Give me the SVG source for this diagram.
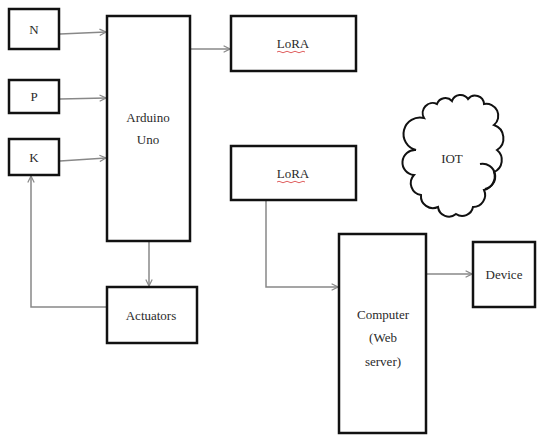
<svg xmlns="http://www.w3.org/2000/svg" width="537" height="436" viewBox="0 0 537 436">
<defs>
<style>
.box{fill:#fff;stroke:#111;stroke-width:2.5}
.lbl{font-family:'Liberation Serif','Times New Roman','DejaVu Serif',serif;font-size:13px;fill:#2a2a2a;text-anchor:middle}
.conn{fill:none;stroke:#888;stroke-width:1.5}
.sq{fill:none;stroke:#e06060;stroke-width:1}
</style>
<marker id="arr" viewBox="0 0 10 10" refX="9" refY="5" markerWidth="8" markerHeight="8" markerUnits="userSpaceOnUse" orient="auto">
<path d="M1 1 L9 5 L1 9" fill="none" stroke="#888" stroke-width="1.5"/>
</marker>
</defs>
<rect width="537" height="436" fill="#fff"/>
<g id="connectors">
<path class="conn" d="M60 34 L106 32" marker-end="url(#arr)"/>
<path class="conn" d="M60 99 L106 98" marker-end="url(#arr)"/>
<path class="conn" d="M60 161 L106 158" marker-end="url(#arr)"/>
<path class="conn" d="M191 49 L230 49" marker-end="url(#arr)"/>
<path class="conn" d="M149 242 L149 286" marker-end="url(#arr)"/>
<path class="conn" d="M107 307 L31 307 L31 176" marker-end="url(#arr)"/>
<path class="conn" d="M266 200 L266 287 L338 287" marker-end="url(#arr)"/>
<path class="conn" d="M426 274 L472 274" marker-end="url(#arr)"/>
</g>
<g id="N"><rect class="box" x="9" y="9" width="50" height="40"/><text class="lbl" font-family="Liberation Serif, serif" x="34" y="34">N</text></g>
<g id="P"><rect class="box" x="9" y="80" width="50" height="33"/><text class="lbl" font-family="Liberation Serif, serif" x="34" y="101">P</text></g>
<g id="K"><rect class="box" x="9" y="139" width="50" height="36"/><text class="lbl" font-family="Liberation Serif, serif" x="34" y="162">K</text></g>
<g id="arduino"><rect class="box" x="107" y="16" width="83" height="225"/><text class="lbl" x="148" y="122">Arduino</text><text class="lbl" x="148" y="144">Uno</text></g>
<g id="lora1"><rect class="box" x="231" y="16" width="125" height="55"/><text class="lbl" x="293" y="48">LoRA</text><path class="sq" d="M277 52 q2 -1.5 4 0 t4 0 t4 0 t4 0 t4 0 t4 0 t4 0"/></g>
<g id="lora2"><rect class="box" x="231" y="146" width="125" height="54"/><text class="lbl" x="293" y="178">LoRA</text><path class="sq" d="M277 182 q2 -1.5 4 0 t4 0 t4 0 t4 0 t4 0 t4 0 t4 0"/></g>
<g id="actuators"><rect class="box" x="107" y="287" width="90" height="56"/><text class="lbl" x="151" y="320">Actuators</text></g>
<g id="iot"><path fill="#fff" stroke="#111" stroke-width="2" d="M424 118 A10 10 0 0 1 437 104 A9 9 0 0 1 452 101 A9 9 0 0 1 468 99 A9 9 0 0 1 484 104 A12 12 0 0 1 494 125 A14 14 0 0 1 497 150 A13 13 0 0 1 494 172 A14 14 0 0 1 484 190 A12 12 0 0 1 473 207 A11 11 0 0 1 456 214 A11 11 0 0 1 438 207 A12 12 0 0 1 421 195 A12 12 0 0 1 414 175 A12 12 0 0 1 416 150 A14 14 0 0 1 424 118 Z"/><path fill="none" stroke="#111" stroke-width="2" d="M480 164 A11 11 0 0 1 485 189"/><text class="lbl" x="452" y="163" font-size="14">IOT</text></g>
<g id="computer"><rect class="box" x="339" y="234" width="87" height="199"/><text class="lbl" x="383" y="319">Computer</text><text class="lbl" x="383" y="342">(Web</text><text class="lbl" x="383" y="366">server)</text></g>
<g id="device"><rect class="box" x="473" y="242" width="62" height="65"/><text class="lbl" x="504" y="279">Device</text></g>
</svg>
